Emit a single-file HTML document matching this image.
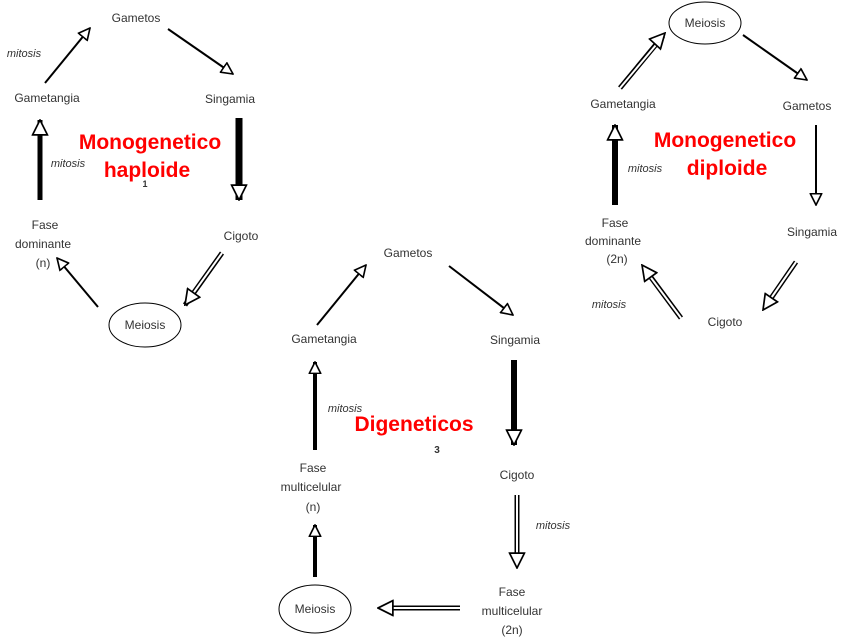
<!DOCTYPE html>
<html><head><meta charset="utf-8"><style>
body{margin:0;background:#fff;}
svg{display:block;}
.l{font-family:"Liberation Sans",sans-serif;font-size:12px;fill:#333;text-anchor:middle;}
.m{font-family:"Liberation Sans",sans-serif;font-size:11px;fill:#333;font-style:italic;text-anchor:middle;}
.r{font-family:"Liberation Sans",sans-serif;font-size:21px;font-weight:bold;fill:#f00;text-anchor:middle;}
</style></head><body>
<svg width="853" height="640" viewBox="0 0 853 640" xmlns="http://www.w3.org/2000/svg">
<defs>
<marker id="a" markerUnits="userSpaceOnUse" viewBox="0 0 16 16" markerWidth="13" markerHeight="13" refX="15" refY="8" orient="auto">
<path d="M1,1 L15,8 L1,15 z" fill="#fff" stroke="#000" stroke-width="2"/></marker>
<marker id="b" markerUnits="userSpaceOnUse" viewBox="0 0 16 16" markerWidth="17" markerHeight="17" refX="15" refY="8" orient="auto">
<path d="M1,1 L15,8 L1,15 z" fill="#fff" stroke="#000" stroke-width="1.6"/></marker>
</defs>
<g stroke="#000" fill="none">
<line x1="45" y1="83" x2="90" y2="28" stroke-width="2" marker-end="url(#a)"/>
<line x1="168" y1="29" x2="233" y2="74" stroke-width="2" marker-end="url(#a)"/>
<line x1="239" y1="118" x2="239" y2="200" stroke-width="7" marker-end="url(#b)"/>
<line x1="222" y1="253" x2="185" y2="305" stroke-width="5"/>
<line x1="222" y1="253" x2="187" y2="302" stroke-width="2" stroke="#fff"/>
<line x1="210" y1="270" x2="185" y2="305" stroke-width="0" marker-end="url(#b)"/>
<line x1="98" y1="307" x2="57" y2="258" stroke-width="2" marker-end="url(#a)"/>
<line x1="40" y1="200" x2="40" y2="120" stroke-width="5" marker-end="url(#b)"/>
<ellipse cx="145" cy="325" rx="36" ry="22" stroke-width="1"/>
<ellipse cx="705" cy="23" rx="36" ry="21" stroke-width="1"/>
<line x1="743" y1="35" x2="807" y2="80" stroke-width="2" marker-end="url(#a)"/>
<line x1="816" y1="125" x2="816" y2="205" stroke-width="2" marker-end="url(#a)"/>
<line x1="796" y1="262" x2="765" y2="307" stroke-width="5"/>
<line x1="796" y1="262" x2="767" y2="304" stroke-width="2" stroke="#fff"/>
<line x1="780" y1="285" x2="763" y2="310" stroke-width="0" marker-end="url(#b)"/>
<line x1="681" y1="318" x2="644" y2="268" stroke-width="5"/>
<line x1="681" y1="318" x2="646" y2="271" stroke-width="2" stroke="#fff"/>
<line x1="660" y1="290" x2="642" y2="265" stroke-width="0" marker-end="url(#b)"/>
<line x1="615" y1="205" x2="615" y2="125" stroke-width="6" marker-end="url(#b)"/>
<line x1="620" y1="88" x2="663" y2="36" stroke-width="5"/>
<line x1="620" y1="88" x2="661" y2="39" stroke-width="2" stroke="#fff"/>
<line x1="645" y1="55" x2="665" y2="33" stroke-width="0" marker-end="url(#b)"/>
<line x1="317" y1="325" x2="366" y2="265" stroke-width="2" marker-end="url(#a)"/>
<line x1="449" y1="266" x2="513" y2="315" stroke-width="2" marker-end="url(#a)"/>
<line x1="514" y1="360" x2="514" y2="445" stroke-width="6" marker-end="url(#b)"/>
<line x1="517" y1="495" x2="517" y2="565" stroke-width="5"/>
<line x1="517" y1="495" x2="517" y2="562" stroke-width="2" stroke="#fff"/>
<line x1="517" y1="540" x2="517" y2="568" stroke-width="0" marker-end="url(#b)"/>
<line x1="460" y1="608" x2="381" y2="608" stroke-width="5"/>
<line x1="460" y1="608" x2="384" y2="608" stroke-width="2" stroke="#fff"/>
<line x1="410" y1="608" x2="378" y2="608" stroke-width="0" marker-end="url(#b)"/>
<line x1="315" y1="577" x2="315" y2="525" stroke-width="4" marker-end="url(#a)"/>
<line x1="315" y1="450" x2="315" y2="362" stroke-width="4" marker-end="url(#a)"/>
<ellipse cx="315" cy="609" rx="36" ry="24" stroke-width="1"/>
</g>
<text class="l" x="136" y="22">Gametos</text>
<text class="l" x="47" y="102">Gametangia</text>
<text class="l" x="230" y="103">Singamia</text>
<text class="l" x="241" y="240">Cigoto</text>
<text class="l" x="45" y="229">Fase</text>
<text class="l" x="43" y="248">dominante</text>
<text class="l" x="43" y="267">(n)</text>
<text class="l" x="145" y="329">Meiosis</text>
<text class="m" x="24" y="57">mitosis</text>
<text class="m" x="68" y="167">mitosis</text>
<text class="l" x="145" y="187" style="font-size:9px;font-weight:bold">1</text>
<text class="r" x="150" y="149">Monogenetico</text>
<text class="r" x="147" y="177">haploide</text>
<text class="l" x="705" y="27">Meiosis</text>
<text class="l" x="623" y="108">Gametangia</text>
<text class="l" x="807" y="110">Gametos</text>
<text class="l" x="812" y="236">Singamia</text>
<text class="l" x="725" y="326">Cigoto</text>
<text class="l" x="615" y="227">Fase</text>
<text class="l" x="613" y="245">dominante</text>
<text class="l" x="617" y="263">(2n)</text>
<text class="m" x="645" y="172">mitosis</text>
<text class="m" x="609" y="308">mitosis</text>
<text class="r" x="725" y="147">Monogenetico</text>
<text class="r" x="727" y="175">diploide</text>
<text class="l" x="408" y="257">Gametos</text>
<text class="l" x="324" y="343">Gametangia</text>
<text class="l" x="515" y="344">Singamia</text>
<text class="l" x="517" y="479">Cigoto</text>
<text class="l" x="313" y="472">Fase</text>
<text class="l" x="311" y="491">multicelular</text>
<text class="l" x="313" y="511">(n)</text>
<text class="l" x="512" y="596">Fase</text>
<text class="l" x="512" y="615">multicelular</text>
<text class="l" x="512" y="634">(2n)</text>
<text class="l" x="315" y="613">Meiosis</text>
<text class="m" x="345" y="412">mitosis</text>
<text class="m" x="553" y="529">mitosis</text>
<text class="l" x="437" y="453" style="font-size:10px;font-weight:bold">3</text>
<text class="r" x="414" y="431">Digeneticos</text>
</svg>
</body></html>
